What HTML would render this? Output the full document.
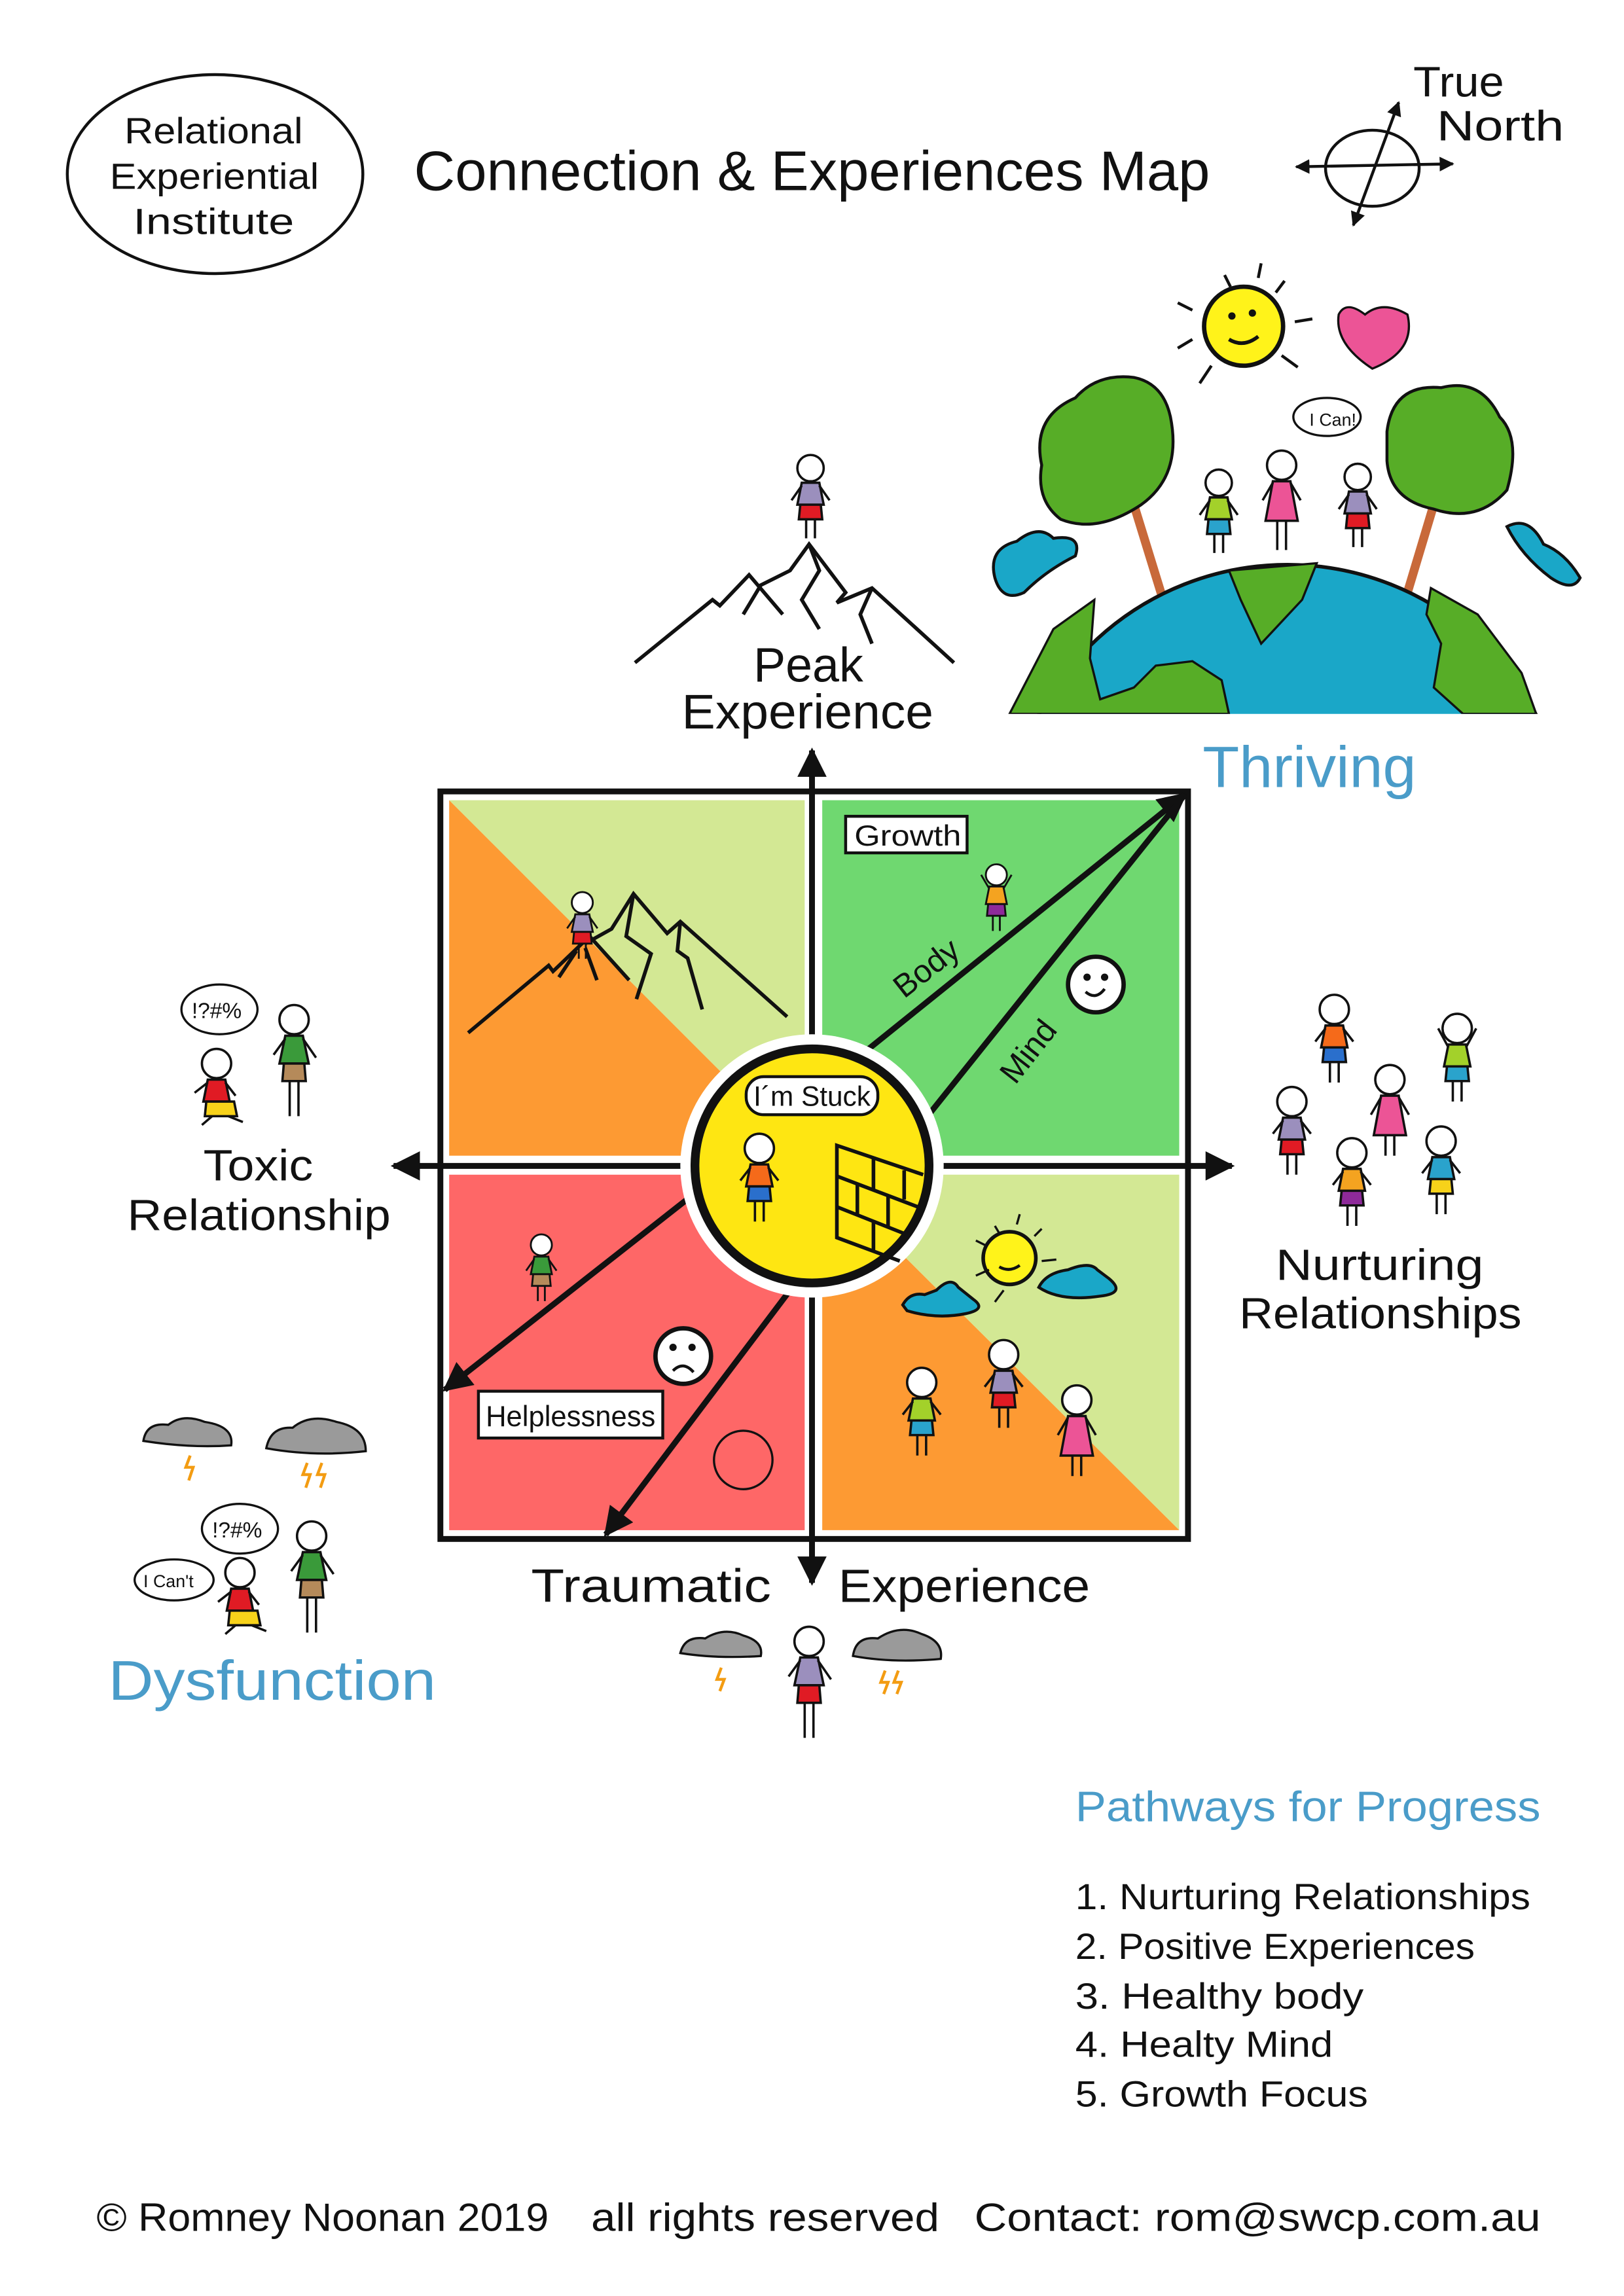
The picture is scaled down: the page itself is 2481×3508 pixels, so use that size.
<!DOCTYPE html>
<html><head><meta charset="utf-8"><style>
html,body{margin:0;padding:0;background:#fff;}
svg{display:block;}
text{font-family:"Liberation Sans",sans-serif;fill:#111;}
</style></head><body>
<svg width="2481" height="3508" viewBox="0 0 1110 1569.5" xmlns="http://www.w3.org/2000/svg">
<defs>
<marker id="ah" viewBox="0 0 10 10" refX="9" refY="5" markerWidth="5" markerHeight="5" orient="auto-start-reverse"><path d="M0 0 L10 5 L0 10Z" fill="#111"/></marker>
<clipPath id="ec"><rect x="600" y="300" width="500" height="188"/></clipPath>
</defs>
<rect width="1110" height="1570" fill="#fff"/>

<!-- header -->
<ellipse cx="147" cy="119" rx="101" ry="68" fill="none" stroke="#111" stroke-width="2"/>
<text x="85" y="98" font-size="25" textLength="122" lengthAdjust="spacingAndGlyphs">Relational</text>
<text x="75" y="129" font-size="25" textLength="143" lengthAdjust="spacingAndGlyphs">Experiential</text>
<text x="91" y="160" font-size="25" textLength="110" lengthAdjust="spacingAndGlyphs">Institute</text>
<text x="283" y="130" font-size="38" textLength="544" lengthAdjust="spacingAndGlyphs">Connection &amp; Experiences Map</text>
<text x="966" y="66" font-size="29" textLength="62" lengthAdjust="spacingAndGlyphs">True</text>
<text x="982" y="96" font-size="29" textLength="87" lengthAdjust="spacingAndGlyphs">North</text>
<ellipse cx="938" cy="115" rx="32" ry="26" fill="none" stroke="#111" stroke-width="2"/>
<line x1="886" y1="114" x2="993" y2="112" stroke="#111" stroke-width="2" marker-start="url(#ah)" marker-end="url(#ah)"/>
<line x1="925" y1="154" x2="956" y2="70" stroke="#111" stroke-width="2" marker-start="url(#ah)" marker-end="url(#ah)"/>

<!-- thriving picture -->
<path d="M775 345 L795 410" stroke="#c8693a" stroke-width="6"/>
<path d="M980 345 L962 405" stroke="#c8693a" stroke-width="6"/>
<g clip-path="url(#ec)">
<circle cx="880" cy="578" r="192" fill="#1aa7c8" stroke="#111" stroke-width="2.5"/>
<path d="M690 488 L720 430 L748 410 L745 450 L752 478 L775 470 L790 455 L815 452 L835 465 L840 488Z" fill="#57ad27" stroke="#111" stroke-width="1.5"/>
<path d="M840 390 L900 385 L890 410 L862 440 L848 410Z" fill="#57ad27" stroke="#111" stroke-width="1.5"/>
<path d="M978 402 L1010 420 L1040 460 L1050 488 L1000 488 L980 470 L985 440 L975 420Z" fill="#57ad27" stroke="#111" stroke-width="1.5"/>
</g>
<path d="M712 318 Q705 285 735 272 Q750 255 775 258 Q795 262 800 285 Q808 325 780 345 Q750 365 725 355 Q708 342 712 318Z" fill="#57ad27" stroke="#111" stroke-width="2"/>
<path d="M948 295 Q952 262 985 265 Q1012 258 1025 285 Q1040 300 1030 335 Q1010 358 980 348 Q950 342 948 315Z" fill="#57ad27" stroke="#111" stroke-width="2"/>
<path d="M680 395 Q675 375 695 370 Q710 358 720 368 Q740 365 735 380 Q715 390 700 405 Q685 412 680 395Z" fill="#1aa7c8" stroke="#111" stroke-width="2"/>
<path d="M1030 360 Q1045 352 1055 372 Q1070 378 1080 395 Q1075 405 1060 395 Q1040 380 1030 360Z" fill="#1aa7c8" stroke="#111" stroke-width="2"/>
<circle cx="850" cy="223" r="27" fill="#fff31a" stroke="#111" stroke-width="3"/>
<circle cx="842" cy="216" r="2.5" fill="#111"/><circle cx="856" cy="214" r="2.5" fill="#111"/>
<path d="M840 232 Q850 238 860 230" stroke="#111" stroke-width="2.5" fill="none"/>
<g stroke="#111" stroke-width="2"><line x1="837" y1="188" x2="841" y2="196"/><line x1="862" y1="180" x2="860" y2="190"/><line x1="878" y1="192" x2="872" y2="200"/><line x1="885" y1="220" x2="897" y2="218"/><line x1="876" y1="243" x2="887" y2="251"/><line x1="828" y1="250" x2="820" y2="262"/><line x1="815" y1="232" x2="805" y2="238"/><line x1="805" y1="207" x2="815" y2="212"/></g>
<path d="M938 252 Q912 235 915 215 Q920 205 933 215 Q945 205 962 215 Q968 240 938 252Z" fill="#ec5496" stroke="#111" stroke-width="1.5"/>
<ellipse cx="907" cy="285" rx="23" ry="13" fill="#fff" stroke="#111" stroke-width="1.5"/>
<text x="895" y="291" font-size="12">I Can!</text>

<!-- peak mountain -->
<g stroke="#111" stroke-width="2.5" fill="none">
<path d="M434 453 L487 410 L492 414 L512 393 L535 420"/>
<path d="M508 420 L520 400 L540 390 L553 372 L578 405 L572 412 L596 402 L652 453"/>
<path d="M553 372 L560 390 L548 410 L560 430"/>
<path d="M596 402 L588 420 L596 440"/>
</g>
<text x="515" y="466" font-size="33" textLength="75" lengthAdjust="spacingAndGlyphs">Peak</text>
<text x="466" y="498" font-size="33" textLength="172" lengthAdjust="spacingAndGlyphs">Experience</text>
<text x="822" y="538" font-size="40" textLength="146" lengthAdjust="spacingAndGlyphs" style="fill:#4a9cc9">Thriving</text>

<!-- main square -->
<rect x="301" y="541" width="511" height="511" fill="#fff" stroke="#111" stroke-width="4"/>
<polygon points="307,547 550,547 550,790" fill="#d3e894"/>
<polygon points="307,547 550,790 307,790" fill="#fd9a33"/>
<rect x="562" y="547" width="244" height="243" fill="#6fd870"/>
<rect x="307" y="803" width="243" height="243" fill="#fe6767"/>
<polygon points="562,803 806,803 806,1046" fill="#d3e894"/>
<polygon points="562,803 806,1046 562,1046" fill="#fd9a33"/>
<g stroke="#111" stroke-width="2.5" fill="none">
<path d="M320 706 L375 660 L378 664 L403 640 L430 670"/>
<path d="M382 668 L394 650 M400 648 L408 670"/>
<path d="M400 645 L418 635 L433 611 L456 638 L465 630 L538 695"/>
<path d="M433 611 L428 640 L445 652 L435 683"/>
<path d="M465 630 L463 650 L470 655 L480 690"/>
</g>
<line x1="555" y1="1082" x2="555" y2="513" stroke="#111" stroke-width="4" marker-end="url(#ah)" marker-start="url(#ah)"/>
<line x1="269" y1="797" x2="842" y2="797" stroke="#111" stroke-width="4" marker-end="url(#ah)" marker-start="url(#ah)"/>
<line x1="590" y1="720" x2="810" y2="543" stroke="#111" stroke-width="4" marker-end="url(#ah)"/>
<line x1="630" y1="768" x2="810" y2="543" stroke="#111" stroke-width="4"/>
<line x1="472" y1="818" x2="304" y2="950" stroke="#111" stroke-width="4" marker-end="url(#ah)"/>
<line x1="543" y1="878" x2="414" y2="1049" stroke="#111" stroke-width="4" marker-end="url(#ah)"/>
<circle cx="555" cy="797" r="90" fill="#fff"/>
<circle cx="555" cy="797" r="80" fill="#fee612" stroke="#111" stroke-width="6"/>
<g stroke="#111" stroke-width="2.5" fill="none">
<path d="M631 803 L572 783 L572 846 L615 862"/>
<path d="M572 804 L630 826 M572 825 L620 844"/>
<path d="M597 792 L597 813 M618 800 L618 820 M586 810 L586 830 M607 818 L607 838 M597 835 L597 855"/>
</g>
<rect x="510" y="736" width="90" height="26" rx="12" fill="#fff" stroke="#111" stroke-width="2"/>
<text x="515" y="756" font-size="19" textLength="80" lengthAdjust="spacingAndGlyphs">I´m Stuck</text>
<rect x="578" y="558" width="83" height="25" fill="#fff" stroke="#111" stroke-width="2"/>
<text x="584" y="578" font-size="20" textLength="73" lengthAdjust="spacingAndGlyphs">Growth</text>
<text x="0" y="0" font-size="22" transform="translate(618,683) rotate(-38)">Body</text>
<text x="0" y="0" font-size="22" transform="translate(694,742) rotate(-52)">Mind</text>
<circle cx="749" cy="673" r="19" fill="#fff" stroke="#111" stroke-width="3"/>
<circle cx="743" cy="668" r="2.5" fill="#111"/><circle cx="755" cy="668" r="2.5" fill="#111"/>
<path d="M742 678 Q749 684 755 676" stroke="#111" stroke-width="2" fill="none"/>
<rect x="327" y="951" width="126" height="32" fill="#fff" stroke="#111" stroke-width="2"/>
<text x="332" y="975" font-size="20" textLength="116" lengthAdjust="spacingAndGlyphs">Helplessness</text>
<circle cx="467" cy="927" r="19" fill="#fff" stroke="#111" stroke-width="3"/>
<circle cx="460" cy="921" r="2.5" fill="#111"/><circle cx="473" cy="921" r="2.5" fill="#111"/>
<path d="M460 937 Q467 930 474 938" stroke="#111" stroke-width="2" fill="none"/>
<circle cx="508" cy="998" r="20" fill="none" stroke="#111" stroke-width="1.5"/>
<circle cx="690" cy="860" r="18" fill="#fff31a" stroke="#111" stroke-width="2.5"/>
<path d="M683 866 Q690 870 697 865" stroke="#111" stroke-width="2" fill="none"/>
<g stroke="#111" stroke-width="1.5"><line x1="680" y1="838" x2="683" y2="843"/><line x1="697" y1="830" x2="695" y2="837"/><line x1="712" y1="840" x2="707" y2="845"/><line x1="712" y1="862" x2="722" y2="861"/><line x1="667" y1="848" x2="675" y2="852"/><line x1="667" y1="872" x2="676" y2="868"/><line x1="686" y1="882" x2="680" y2="890"/></g>
<path d="M617 892 Q622 883 632 885 L640 882 Q650 872 655 880 L665 888 Q675 895 660 898 Q640 902 620 896Z" fill="#1aa7c8" stroke="#111" stroke-width="2"/>
<path d="M710 880 Q715 870 730 868 Q745 862 750 868 L758 874 Q770 884 752 886 Q725 890 710 880Z" fill="#1aa7c8" stroke="#111" stroke-width="2"/>

<!-- side labels -->
<text x="139" y="807" font-size="30" textLength="75" lengthAdjust="spacingAndGlyphs">Toxic</text>
<text x="87" y="841" font-size="30" textLength="180" lengthAdjust="spacingAndGlyphs">Relationship</text>
<text x="872" y="875" font-size="30" textLength="142" lengthAdjust="spacingAndGlyphs">Nurturing</text>
<text x="847" y="908" font-size="30" textLength="193" lengthAdjust="spacingAndGlyphs">Relationships</text>
<text x="363" y="1095" font-size="32" textLength="164" lengthAdjust="spacingAndGlyphs">Traumatic</text>
<text x="573" y="1095" font-size="32" textLength="172" lengthAdjust="spacingAndGlyphs">Experience</text>
<text x="74" y="1162" font-size="38" textLength="224" lengthAdjust="spacingAndGlyphs" style="fill:#4a9cc9">Dysfunction</text>

<ellipse cx="150" cy="690" rx="26" ry="17" fill="#fff" stroke="#111" stroke-width="1.5"/>
<text x="131" y="696" font-size="15">!?#%</text>
<ellipse cx="164" cy="1045" rx="26" ry="17" fill="#fff" stroke="#111" stroke-width="1.5"/>
<text x="145" y="1051" font-size="15">!?#%</text>
<ellipse cx="119" cy="1080" rx="27" ry="14" fill="#fff" stroke="#111" stroke-width="1.5"/>
<text x="98" y="1085" font-size="12">I Can't</text>

<g fill="#9a9a9a" stroke="#111" stroke-width="1.5">
<path d="M98 985 Q100 972 115 974 Q125 966 140 972 Q160 975 158 988 Q130 990 98 985Z"/>
<path d="M182 990 Q185 975 200 976 Q212 966 230 972 Q250 976 250 992 Q215 996 182 990Z"/>
<path d="M465 1130 Q468 1118 482 1120 Q495 1112 508 1118 Q522 1122 520 1132 Q490 1134 465 1130Z"/>
<path d="M583 1132 Q585 1118 600 1120 Q615 1110 630 1117 Q645 1122 643 1134 Q610 1137 583 1132Z"/>
</g>
<g stroke="#f39c12" stroke-width="2" fill="none">
<path d="M130 995 L127 1003 L132 1003 L129 1012"/><path d="M210 1000 L207 1008 L212 1008 L209 1017"/><path d="M220 1000 L217 1008 L222 1008 L219 1017"/>
<path d="M493 1140 L490 1148 L495 1148 L492 1156"/><path d="M605 1142 L602 1150 L607 1150 L604 1158"/><path d="M614 1142 L611 1150 L616 1150 L613 1158"/>
</g>

<g stroke="#111" stroke-width="1.6">
<g transform="translate(554,320)"><circle r="9" fill="#fff"/><path d="M-6 10 L6 10 L9 25 L-9 25Z" fill="#9b8fbd"/><path d="M-7 25 L7 25 L8 35 L-8 35Z" fill="#e01b24"/><path d="M-3 35 V48 M3 35 V48 M-6 12 L-13 22 M6 12 L13 22" fill="none"/></g>
<g transform="translate(833,330)"><circle r="9" fill="#fff"/><path d="M-6 10 L6 10 L9 25 L-9 25Z" fill="#a3d12a"/><path d="M-7 25 L7 25 L8 35 L-8 35Z" fill="#2aa3cc"/><path d="M-3 35 V48 M3 35 V48 M-6 12 L-13 22 M6 12 L13 22" fill="none"/></g>
<g transform="translate(876,318)"><circle r="10" fill="#fff"/><path d="M-6 11 L6 11 L11 38 L-11 38Z" fill="#ec5496"/><path d="M-3 38 V58 M3 38 V58 M-6 12 L-13 24 M6 12 L13 24" fill="none"/></g>
<g transform="translate(928,326)"><circle r="9" fill="#fff"/><path d="M-6 10 L6 10 L9 25 L-9 25Z" fill="#9b8fbd"/><path d="M-7 25 L7 25 L8 35 L-8 35Z" fill="#e01b24"/><path d="M-3 35 V48 M3 35 V48 M-6 12 L-13 22 M6 12 L13 22" fill="none"/></g>
<g transform="translate(398,617) scale(0.8)"><circle r="9" fill="#fff"/><path d="M-6 10 L6 10 L9 25 L-9 25Z" fill="#9b8fbd"/><path d="M-7 25 L7 25 L8 35 L-8 35Z" fill="#e01b24"/><path d="M-3 35 V48 M3 35 V48 M-6 12 L-13 22 M6 12 L13 22" fill="none"/></g>
<g transform="translate(681,598) scale(0.8)"><circle r="9" fill="#fff"/><path d="M-6 10 L6 10 L9 25 L-9 25Z" fill="#f4a320"/><path d="M-7 25 L7 25 L8 35 L-8 35Z" fill="#8e2a9a"/><path d="M-3 35 V48 M3 35 V48 M-6 12 L-13 0 M6 12 L13 0" fill="none"/></g>
<g transform="translate(519,785)"><circle r="10" fill="#fff"/><path d="M-6 11 L6 11 L9 26 L-9 26Z" fill="#f56a1a"/><path d="M-7 26 L7 26 L8 36 L-8 36Z" fill="#2a6fcc"/><path d="M-3 36 V50 M3 36 V50 M-6 13 L-13 22 M6 13 L13 22" fill="none"/></g>
<g transform="translate(370,851) scale(0.8)"><circle r="9" fill="#fff"/><path d="M-6 10 L6 10 L9 25 L-9 25Z" fill="#3a9a3a"/><path d="M-7 25 L7 25 L8 35 L-8 35Z" fill="#b58a5a"/><path d="M-3 35 V48 M3 35 V48 M-6 12 L-13 22 M6 12 L13 22" fill="none"/></g>
<g transform="translate(630,945)"><circle r="10" fill="#fff"/><path d="M-6 11 L6 11 L9 26 L-9 26Z" fill="#a3d12a"/><path d="M-7 26 L7 26 L8 36 L-8 36Z" fill="#2aa3cc"/><path d="M-3 36 V50 M3 36 V50 M-6 13 L-13 22 M6 13 L13 22" fill="none"/></g>
<g transform="translate(686,926)"><circle r="10" fill="#fff"/><path d="M-6 11 L6 11 L9 26 L-9 26Z" fill="#9b8fbd"/><path d="M-7 26 L7 26 L8 36 L-8 36Z" fill="#e01b24"/><path d="M-3 36 V50 M3 36 V50 M-6 13 L-13 22 M6 13 L13 22" fill="none"/></g>
<g transform="translate(736,957)"><circle r="10" fill="#fff"/><path d="M-6 11 L6 11 L11 38 L-11 38Z" fill="#ec5496"/><path d="M-3 38 V52 M3 38 V52 M-6 12 L-13 24 M6 12 L13 24" fill="none"/></g>
<g transform="translate(148,727)"><circle r="10" fill="#fff"/><path d="M-6 11 L6 11 L9 26 L-9 26Z" fill="#e01b24"/><path d="M-7 26 L12 26 L14 36 L-8 36Z" fill="#f7d21a"/><path d="M-3 36 L-10 42 M8 36 L18 40 M-6 13 L-15 20 M6 13 L13 22" fill="none"/></g>
<g transform="translate(201,697)"><circle r="10" fill="#fff"/><path d="M-6 11 L6 11 L10 30 L-10 30Z" fill="#3a9a3a"/><path d="M-7 30 L7 30 L8 42 L-8 42Z" fill="#b58a5a"/><path d="M-3 42 V66 M3 42 V66 M-6 13 L-14 24 M6 13 L15 26" fill="none"/></g>
<g transform="translate(164,1075)"><circle r="10" fill="#fff"/><path d="M-6 11 L6 11 L9 26 L-9 26Z" fill="#e01b24"/><path d="M-7 26 L12 26 L14 36 L-8 36Z" fill="#f7d21a"/><path d="M-3 36 L-10 42 M8 36 L18 40 M-6 13 L-15 20 M6 13 L13 22" fill="none"/></g>
<g transform="translate(213,1050)"><circle r="10" fill="#fff"/><path d="M-6 11 L6 11 L10 30 L-10 30Z" fill="#3a9a3a"/><path d="M-7 30 L7 30 L8 42 L-8 42Z" fill="#b58a5a"/><path d="M-3 42 V66 M3 42 V66 M-6 13 L-14 24 M6 13 L15 26" fill="none"/></g>
<g transform="translate(553,1122)"><circle r="10" fill="#fff"/><path d="M-6 11 L6 11 L10 30 L-10 30Z" fill="#9b8fbd"/><path d="M-7 30 L7 30 L8 42 L-8 42Z" fill="#e01b24"/><path d="M-3 42 V66 M3 42 V66 M-6 13 L-14 24 M6 13 L15 26" fill="none"/></g>
<g transform="translate(912,690)"><circle r="10" fill="#fff"/><path d="M-6 11 L6 11 L9 26 L-9 26Z" fill="#f56a1a"/><path d="M-7 26 L7 26 L8 36 L-8 36Z" fill="#2a6fcc"/><path d="M-3 36 V50 M3 36 V50 M-6 13 L-13 22 M6 13 L13 22" fill="none"/></g>
<g transform="translate(996,703)"><circle r="10" fill="#fff"/><path d="M-6 11 L6 11 L9 26 L-9 26Z" fill="#a3d12a"/><path d="M-7 26 L7 26 L8 36 L-8 36Z" fill="#2aa3cc"/><path d="M-3 36 V50 M3 36 V50 M-6 13 L-13 0 M6 13 L13 0" fill="none"/></g>
<g transform="translate(950,738)"><circle r="10" fill="#fff"/><path d="M-6 11 L6 11 L11 38 L-11 38Z" fill="#ec5496"/><path d="M-3 38 V52 M3 38 V52 M-6 12 L-13 24 M6 12 L13 24" fill="none"/></g>
<g transform="translate(883,753)"><circle r="10" fill="#fff"/><path d="M-6 11 L6 11 L9 26 L-9 26Z" fill="#9b8fbd"/><path d="M-7 26 L7 26 L8 36 L-8 36Z" fill="#e01b24"/><path d="M-3 36 V50 M3 36 V50 M-6 13 L-13 22 M6 13 L13 22" fill="none"/></g>
<g transform="translate(924,788)"><circle r="10" fill="#fff"/><path d="M-6 11 L6 11 L9 26 L-9 26Z" fill="#f4a320"/><path d="M-7 26 L7 26 L8 36 L-8 36Z" fill="#8e2a9a"/><path d="M-3 36 V50 M3 36 V50 M-6 13 L-13 22 M6 13 L13 22" fill="none"/></g>
<g transform="translate(985,780)"><circle r="10" fill="#fff"/><path d="M-6 11 L6 11 L9 26 L-9 26Z" fill="#2aa3cc"/><path d="M-7 26 L7 26 L8 36 L-8 36Z" fill="#f7d21a"/><path d="M-3 36 V50 M3 36 V50 M-6 13 L-13 22 M6 13 L13 22" fill="none"/></g>
</g>

<text x="735" y="1245" font-size="29" textLength="318" lengthAdjust="spacingAndGlyphs" style="fill:#4a9cc9">Pathways for Progress</text>
<text x="735" y="1305" font-size="25" textLength="311" lengthAdjust="spacingAndGlyphs">1.  Nurturing Relationships</text>
<text x="735" y="1339" font-size="25" textLength="273" lengthAdjust="spacingAndGlyphs">2.  Positive Experiences</text>
<text x="735" y="1373" font-size="25" textLength="197" lengthAdjust="spacingAndGlyphs">3.  Healthy body</text>
<text x="735" y="1406" font-size="25" textLength="176" lengthAdjust="spacingAndGlyphs">4.  Healty Mind</text>
<text x="735" y="1440" font-size="25" textLength="200" lengthAdjust="spacingAndGlyphs">5.  Growth Focus</text>

<text x="66" y="1525" font-size="27" textLength="309" lengthAdjust="spacingAndGlyphs">© Romney Noonan 2019</text>
<text x="404" y="1525" font-size="27" textLength="238" lengthAdjust="spacingAndGlyphs">all rights reserved</text>
<text x="666" y="1525" font-size="27" textLength="387" lengthAdjust="spacingAndGlyphs">Contact: rom@swcp.com.au</text>
</svg>
</body></html>
